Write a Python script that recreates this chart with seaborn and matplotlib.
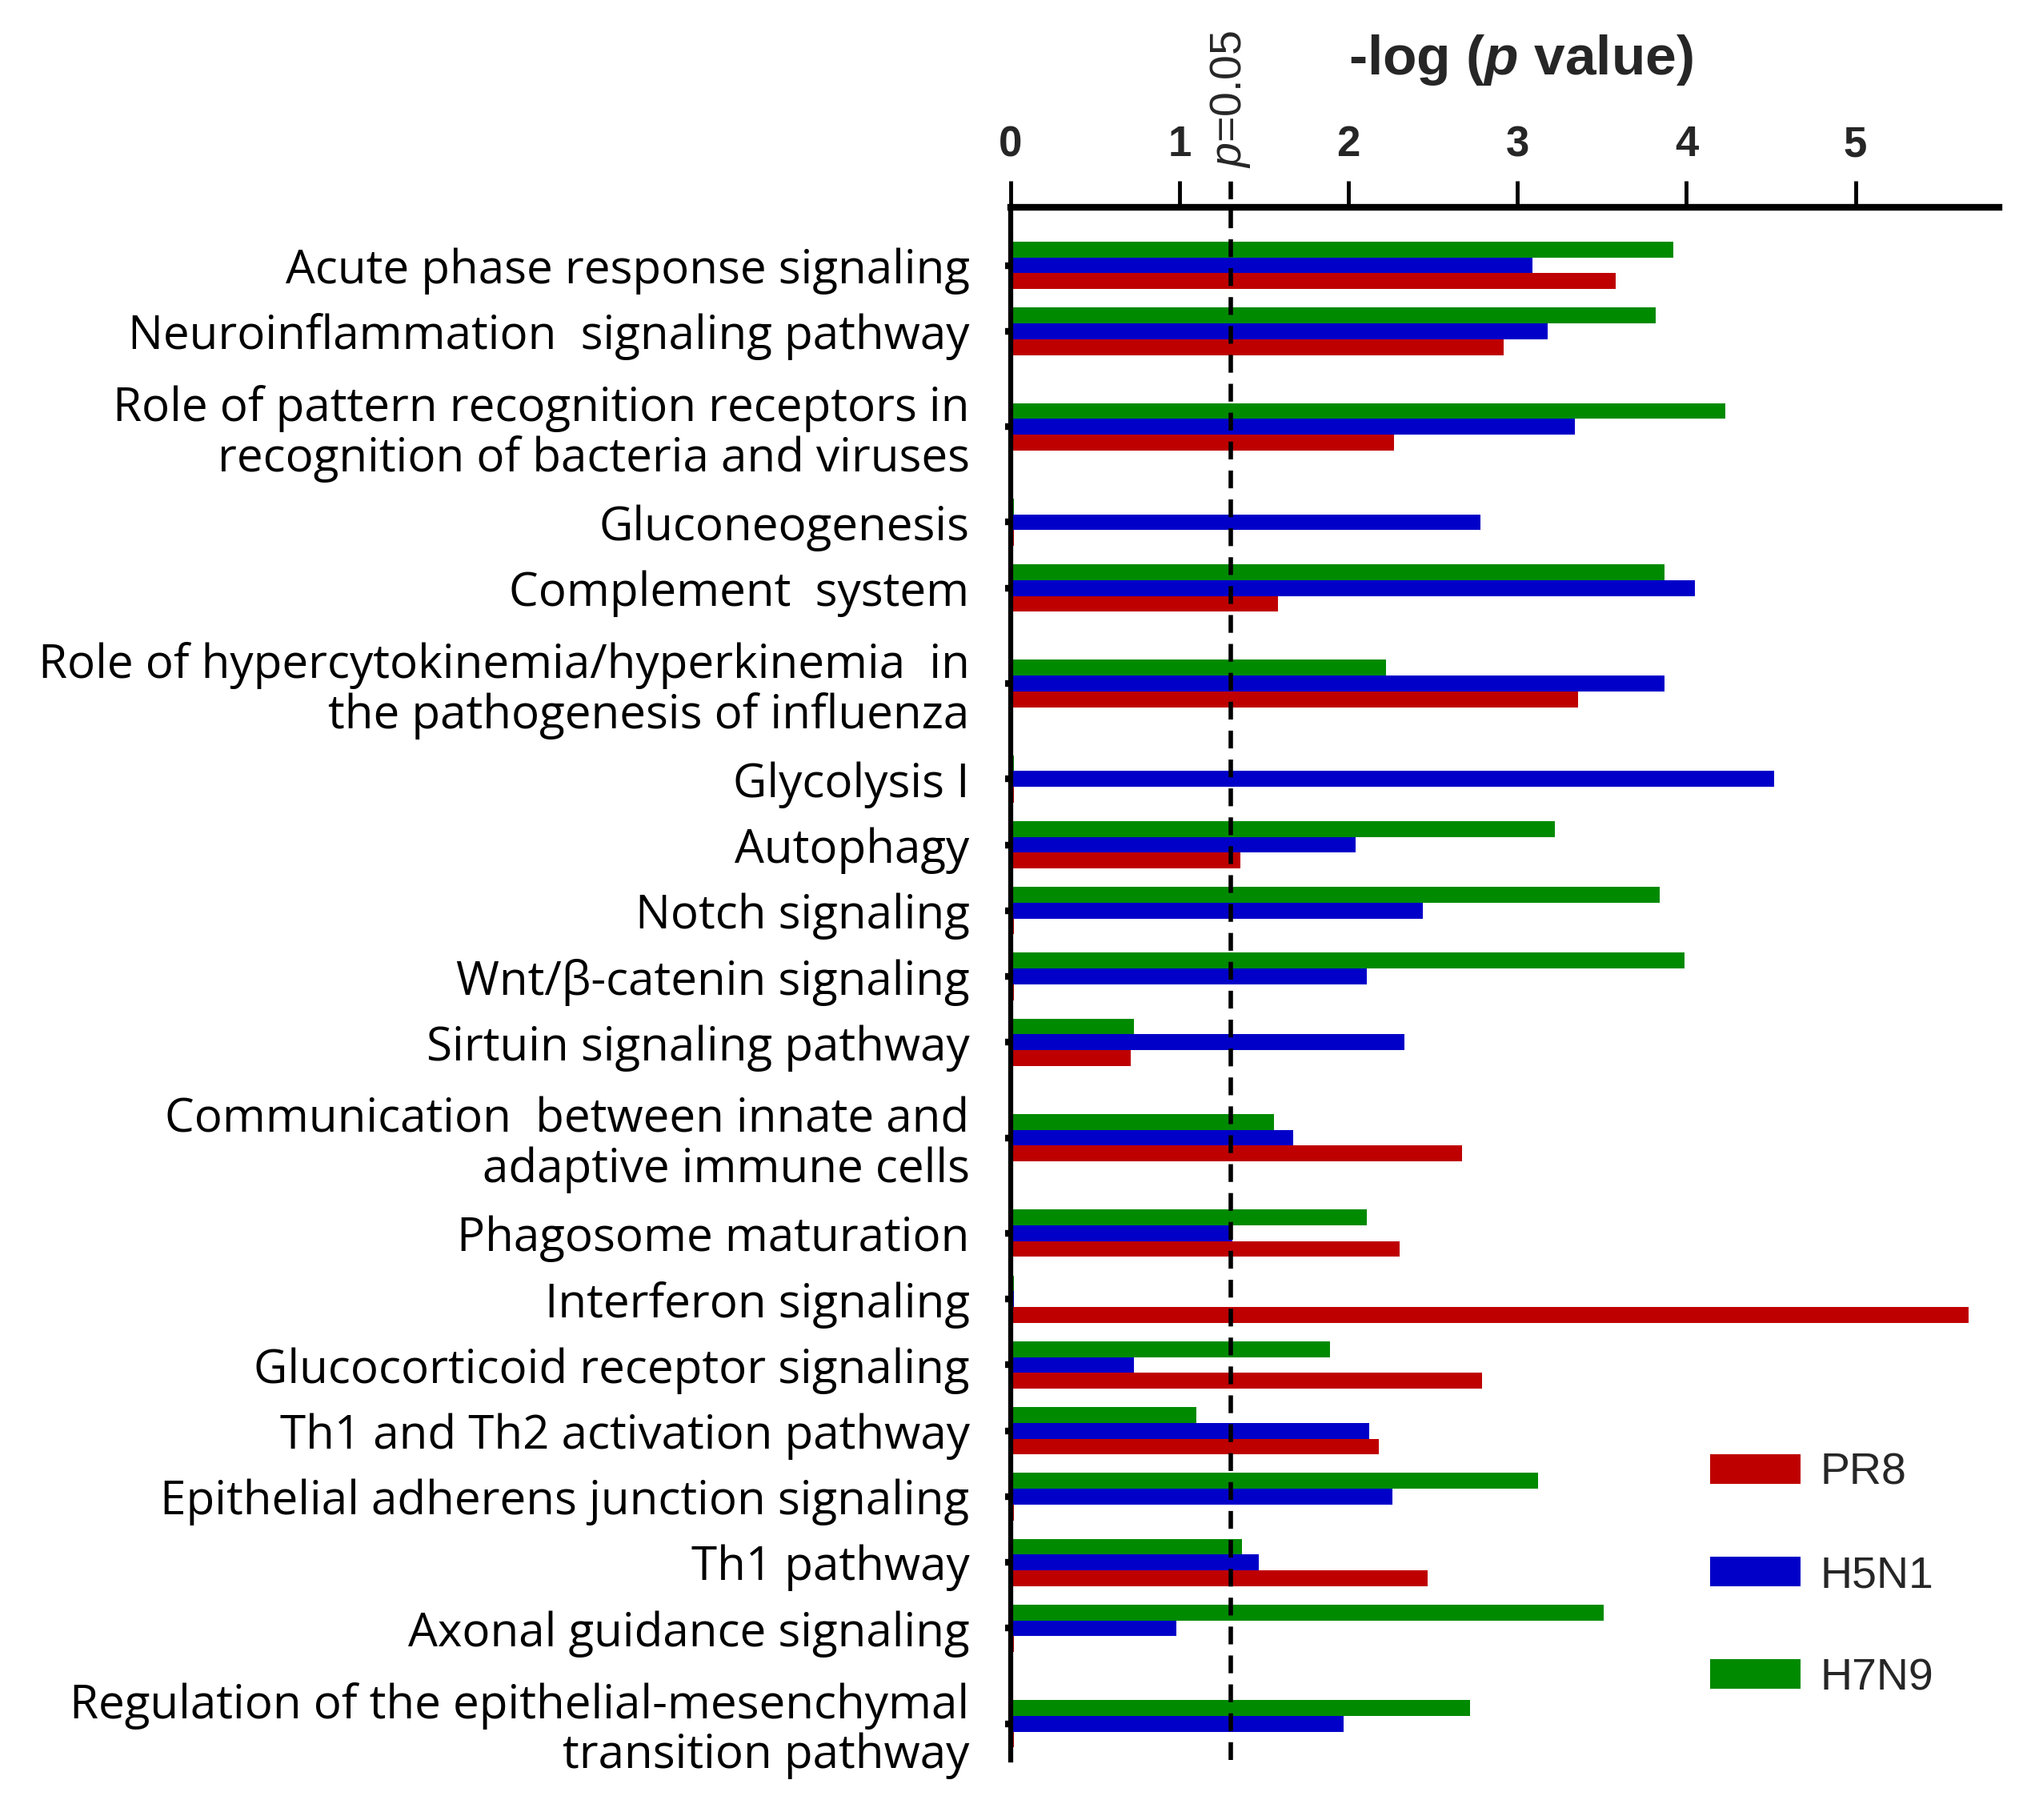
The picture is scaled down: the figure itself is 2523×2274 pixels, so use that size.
import pandas as pd
import numpy as np
import matplotlib
matplotlib.use('Agg')
import matplotlib.pyplot as plt
import seaborn as sns
from matplotlib import font_manager
from matplotlib.patches import Patch


def pick_font(*names):
    # first installed family from the list
    for n in names:
        try:
            font_manager.findfont(font_manager.FontProperties(family=n), fallback_to_default=False)
            return n
        except ValueError:
            pass
    return 'DejaVu Sans'


# Данные
pathways = [
    'Acute phase response signaling',
    'Neuroinflammation  signaling pathway',
    'Role of pattern recognition receptors in\nrecognition of bacteria and viruses',
    'Gluconeogenesis',
    'Complement  system',
    'Role of hypercytokinemia/hyperkinemia  in\nthe pathogenesis of influenza',
    'Glycolysis I',
    'Autophagy',
    'Notch signaling',
    'Wnt/β-catenin signaling',
    'Sirtuin signaling pathway',
    'Communication  between innate and\nadaptive immune cells',
    'Phagosome maturation',
    'Interferon signaling',
    'Glucocorticoid receptor signaling',
    'Th1 and Th2 activation pathway',
    'Epithelial adherens junction signaling',
    'Th1 pathway',
    'Axonal guidance signaling',
    'Regulation of the epithelial-mesenchymal\ntransition pathway',
]
pr8 = [3.58, 2.92, 2.27, 0.02, 1.58, 3.36, 0.02, 1.36, 0.02, 0.02,
       0.71, 2.67, 2.30, 5.67, 2.79, 2.18, 0.02, 2.47, 0.02, 0.02]
h5n1 = [3.09, 3.18, 3.34, 2.78, 4.05, 3.87, 4.52, 2.04, 2.44, 2.11,
        2.33, 1.67, 1.31, 0.02, 0.73, 2.12, 2.26, 1.47, 0.98, 1.97]
h7n9 = [3.92, 3.82, 4.23, 0.02, 3.87, 2.22, 0.02, 3.22, 3.84, 3.99,
        0.73, 1.56, 2.11, 0.02, 1.89, 1.10, 3.12, 1.37, 3.51, 2.72]
strains = ['PR8', 'H5N1', 'H7N9']
colors = {'PR8': '#BE0000', 'H5N1': '#0000C8', 'H7N9': '#008A00'}

# two-line labels get a bit more room
heights = [1 + 0.9 * (p.count('\n')) for p in pathways]
pos = [0.0]
for i in range(1, len(pathways)):
    pos.append(pos[-1] + (heights[i - 1] + heights[i]) / 2)

df = pd.DataFrame({
    'pos': pos * 3,
    'value': pr8 + h5n1 + h7n9,
    'strain': ['PR8'] * len(pr8) + ['H5N1'] * len(h5n1) + ['H7N9'] * len(h7n9),
})

sns.set_style('white')
label_font = pick_font('Open Sans', 'Noto Sans', 'DejaVu Sans')
narrow_font = pick_font('Liberation Sans Narrow', 'Liberation Sans', 'DejaVu Sans')
plt.rcParams['font.family'] = [label_font, 'DejaVu Sans']
plt.rcParams['mathtext.fontset'] = 'custom'
plt.rcParams['mathtext.rm'] = narrow_font
plt.rcParams['mathtext.it'] = narrow_font + ':italic'
plt.rcParams['mathtext.bf'] = narrow_font + ':bold'
plt.rcParams['mathtext.bfit'] = narrow_font + ':italic:bold'

fig = plt.figure(figsize=(25.23, 22.74), dpi=100)
ax = fig.add_axes([0.5006, 0.033, 0.4895, 0.853])

sns.barplot(data=df, x='value', y='pos', hue='strain', hue_order=['H7N9', 'H5N1', 'PR8'],
            palette=colors, orient='y', native_scale=True, width=0.72, saturation=1,
            linewidth=0, errorbar=None, legend=False, ax=ax)

ax.set_xlim(0, 5.85)
ax.set_ylim(pos[-1] + 0.55, -0.88)
ax.set_xlabel('')
ax.set_ylabel('')

# axis on top
ax.xaxis.tick_top()
ax.set_xticks([0, 1, 2, 3, 4, 5])
ax.set_xticklabels(['0', '1', '2', '3', '4', '5'], fontfamily=narrow_font,
                   fontweight='bold', fontsize=38)
ax.tick_params(axis='x', direction='out', length=24, width=3.5, pad=14, color='black')
ax.set_yticks(pos)
ax.set_yticklabels(pathways, fontsize=42, color='black', linespacing=1.08)
ax.tick_params(axis='y', left=True, direction='out', length=5, width=6, pad=32, color='black')

for s in ['right', 'bottom']:
    ax.spines[s].set_visible(False)
ax.spines['top'].set_linewidth(6)
ax.spines['left'].set_linewidth(4.5)
for s in ['top', 'left']:
    ax.spines[s].set_color('black')

# p = 0.05 threshold
thr = -np.log10(0.05)
ax.axvline(thr, ymin=0, ymax=1.018, color='black', lw=4, linestyle=(0, (4, 2.5)), clip_on=False)
ax.text(thr, 1.07, r'$\mathit{p}$=0.05', transform=ax.get_xaxis_transform(), rotation=90,
        ha='center', va='center', fontsize=40, fontfamily=narrow_font)

ax.text(3.02, 1.095, r'-log ($\mathbfit{p}$ value)', transform=ax.get_xaxis_transform(),
        ha='center', va='center', fontsize=50, fontweight='bold', fontfamily=narrow_font)

handles = [Patch(facecolor=colors[s], edgecolor='none') for s in strains]
ax.legend(handles, strains, loc='upper left', bbox_to_anchor=(0.708, 0.198), frameon=False,
          handlelength=2.03, handleheight=0.65, labelspacing=1.37,
          handletextpad=0.44, borderpad=0, borderaxespad=0,
          prop={'family': narrow_font, 'size': 40})

plt.savefig('out.png', dpi=100)
